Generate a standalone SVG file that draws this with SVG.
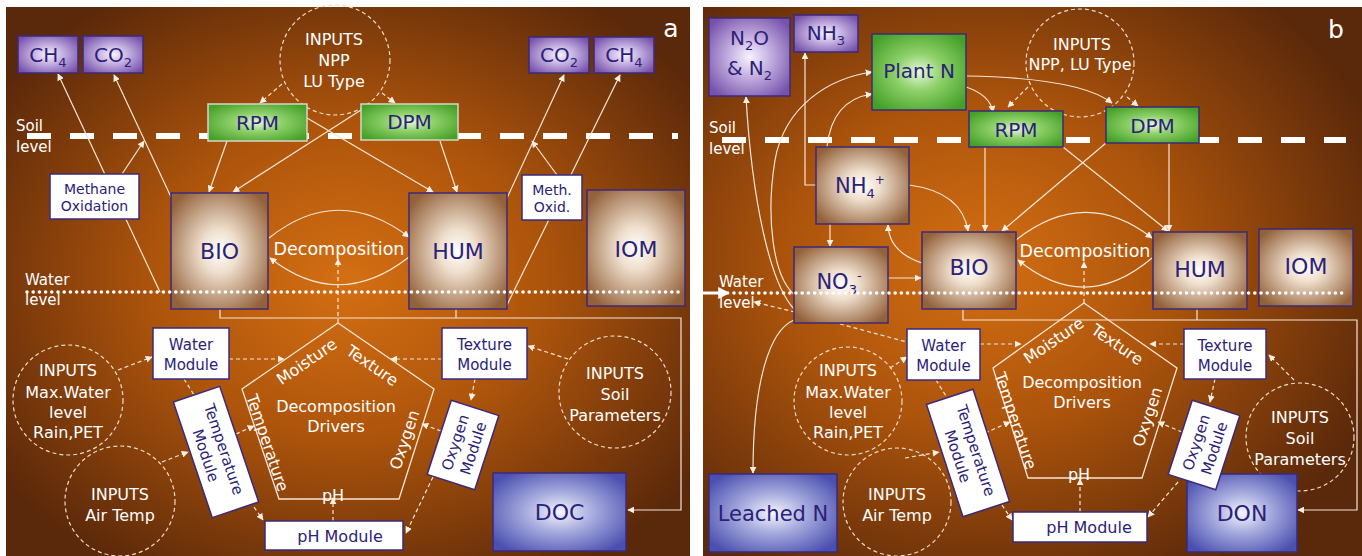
<svg xmlns="http://www.w3.org/2000/svg" width="1362" height="556" viewBox="0 0 1362 556">
<defs>
<radialGradient id="bgA" cx="0.5" cy="0.5" r="0.62"><stop offset="0" stop-color="#d46f13"/><stop offset="0.45" stop-color="#ae550c"/><stop offset="1" stop-color="#5a280a"/></radialGradient>
<radialGradient id="bgB" cx="0.42" cy="0.47" r="0.65"><stop offset="0" stop-color="#d46f13"/><stop offset="0.45" stop-color="#ac540c"/><stop offset="1" stop-color="#5a280a"/></radialGradient>
<radialGradient id="gBrown" cx="0.5" cy="0.5" r="0.62"><stop offset="0" stop-color="#ffffff"/><stop offset="0.3" stop-color="#efdfcd"/><stop offset="1" stop-color="#93613a"/></radialGradient>
<radialGradient id="gPurple" cx="0.5" cy="0.5" r="0.62"><stop offset="0" stop-color="#f7f3fc"/><stop offset="0.4" stop-color="#c6b2e2"/><stop offset="1" stop-color="#7652ab"/></radialGradient>
<radialGradient id="gGreen" cx="0.5" cy="0.5" r="0.62"><stop offset="0" stop-color="#e6f7dc"/><stop offset="0.4" stop-color="#8fd16a"/><stop offset="1" stop-color="#44a027"/></radialGradient>
<radialGradient id="gBlue" cx="0.5" cy="0.5" r="0.62"><stop offset="0" stop-color="#f4f5fd"/><stop offset="0.4" stop-color="#a9addf"/><stop offset="1" stop-color="#4a4fb0"/></radialGradient>
<marker id="ah" viewBox="0 0 10 10" refX="9" refY="5" markerWidth="7" markerHeight="7" markerUnits="userSpaceOnUse" orient="auto"><path d="M0,0 L10,5 L0,10 z" fill="#fbeee2"/></marker>
<marker id="ahBig" viewBox="0 0 10 10" refX="9" refY="5" markerWidth="12" markerHeight="12" markerUnits="userSpaceOnUse" orient="auto"><path d="M0,0 L10,5 L0,10 z" fill="#ffffff"/></marker>
<style>
.box{stroke:#3b2a7c;stroke-width:1.5;}
.brown{fill:url(#gBrown);}
.purple{fill:url(#gPurple);}
.green{fill:url(#gGreen);}
.blue{fill:url(#gBlue);}
.mod{fill:#ffffff;stroke:#3b2a7c;stroke-width:1.5;}
.lbl{fill:#2b2278;text-anchor:middle;font-family:"DejaVu Sans",sans-serif;}
.wt{fill:#ffffff;text-anchor:middle;font-family:"DejaVu Sans",sans-serif;}
.wl{fill:#ffffff;font-family:"DejaVu Sans",sans-serif;font-size:15px;}
.c{fill:none;stroke:#f6e6d6;stroke-width:1.2;}
.d{fill:none;stroke:#f6e6d6;stroke-width:1.2;stroke-dasharray:4 3;}
.a{marker-end:url(#ah);}
.circ{fill:none;stroke:#f0dcc6;stroke-width:1.2;stroke-dasharray:4 3;}
.pent{fill:none;stroke:#f6e6d6;stroke-width:1.3;}
.soil{stroke:#ffffff;stroke-width:6;stroke-dasharray:24 19;}
.water{stroke:#ffffff;stroke-width:3.6;stroke-linecap:round;stroke-dasharray:0 6.2;}
</style>
</defs>
<rect x="0" y="0" width="1362" height="556" fill="#ffffff"/>
<rect id="panelA" x="6" y="7" width="684" height="549" fill="url(#bgA)"/>
<rect id="panelB" x="703" y="7" width="659" height="549" fill="url(#bgB)"/>

<!-- soil level lines -->
<line x1="27" y1="136" x2="678" y2="136" class="soil"/>
<line x1="722" y1="140" x2="1346" y2="140" class="soil"/>
<text class="wl" x="16" y="131">Soil</text><text class="wl" x="16" y="152">level</text>
<text class="wl" x="709" y="133">Soil</text><text class="wl" x="709" y="154">level</text>

<!-- dashed input circles -->
<g id="inA1"><circle cx="335" cy="60" r="55" class="circ"/><text class="wt" font-size="16" x="334" y="45">INPUTS</text><text class="wt" font-size="16" x="334" y="66">NPP</text><text class="wt" font-size="16" x="334" y="87">LU Type</text></g>
<g id="inA2"><circle cx="68" cy="400" r="55" class="circ"/><text class="wt" font-size="16" x="68" y="376">INPUTS</text><text class="wt" font-size="16" x="68" y="398">Max.Water</text><text class="wt" font-size="16" x="68" y="418">level</text><text class="wt" font-size="16" x="68" y="438">Rain,PET</text></g>
<g id="inA3"><circle cx="120" cy="501" r="55" class="circ"/><text class="wt" font-size="16" x="120" y="500">INPUTS</text><text class="wt" font-size="16" x="120" y="521">Air Temp</text></g>
<g id="inA4"><circle cx="615" cy="392" r="56" class="circ"/><text class="wt" font-size="16" x="615" y="379">INPUTS</text><text class="wt" font-size="16" x="615" y="400">Soil</text><text class="wt" font-size="16" x="615" y="421">Parameters</text></g>
<g id="inB1"><circle cx="1080" cy="63" r="54" class="circ"/><text class="wt" font-size="16" x="1082" y="50">INPUTS</text><text class="wt" font-size="16" x="1080" y="70">NPP, LU Type</text></g>
<g id="inB2"><circle cx="848" cy="401" r="54" class="circ"/><text class="wt" font-size="16" x="848" y="376">INPUTS</text><text class="wt" font-size="16" x="848" y="398">Max.Water</text><text class="wt" font-size="16" x="848" y="418">level</text><text class="wt" font-size="16" x="848" y="438">Rain,PET</text></g>
<g id="inB3"><circle cx="897" cy="502" r="54" class="circ"/><text class="wt" font-size="16" x="897" y="500">INPUTS</text><text class="wt" font-size="16" x="897" y="521">Air Temp</text></g>
<g id="inB4"><circle cx="1300" cy="437" r="54" class="circ"/><text class="wt" font-size="16" x="1300" y="423">INPUTS</text><text class="wt" font-size="16" x="1300" y="444">Soil</text><text class="wt" font-size="16" x="1300" y="465">Parameters</text></g>

<!-- pentagons -->
<g id="pentA">
<polygon points="338,323 434,389 399,499 279,499 242,389" class="pent"/>
<text class="wt" font-size="16" transform="translate(307,362) rotate(-34.5)" y="5">Moisture</text>
<text class="wt" font-size="16" transform="translate(372,366) rotate(34.5)" y="5">Texture</text>
<text class="wt" font-size="16" transform="translate(267,443) rotate(71.4)" y="5">Temperature</text>
<text class="wt" font-size="16" transform="translate(405,440) rotate(-71.4)" y="5">Oxygen</text>
<text class="wt" font-size="16" x="333" y="501">pH</text>
<text class="wt" font-size="16" x="336" y="412">Decomposition</text>
<text class="wt" font-size="16" x="336" y="432">Drivers</text>
</g>
<g id="pentB">
<polygon points="1084,303 1177,368 1142,478 1028,478 993,368" class="pent"/>
<text class="wt" font-size="16" transform="translate(1054,341) rotate(-34.5)" y="5">Moisture</text>
<text class="wt" font-size="16" transform="translate(1117,345) rotate(34.5)" y="5">Texture</text>
<text class="wt" font-size="16" transform="translate(1015,421) rotate(71.4)" y="5">Temperature</text>
<text class="wt" font-size="16" transform="translate(1148,417) rotate(-71.4)" y="5">Oxygen</text>
<text class="wt" font-size="16" x="1079" y="480">pH</text>
<text class="wt" font-size="16" x="1082" y="388">Decomposition</text>
<text class="wt" font-size="16" x="1082" y="408">Drivers</text>
</g>

<!-- connectors -->
<g id="connectors">
<path class="d a" d="M282,84 L260,103"/>
<path class="d a" d="M382,93 L395,103"/>
<path class="c a" d="M227,141 L209,192"/>
<path class="c a" d="M307,118 L433,192"/>
<path class="c a" d="M361,110 L233,192"/>
<path class="c a" d="M440,141 L457,192"/>
<path class="c a" d="M171,197 L114,75"/>
<path class="c a" d="M160,292 L58,74"/>
<path class="c a" d="M122,174 L144,141"/>
<path class="c a" d="M507,198 L564,75"/>
<path class="c a" d="M505,309 L620,75"/>
<path class="c a" d="M557,175 L532,141"/>
<path class="c a" d="M269,238 Q338,183 409,237"/>
<path class="c a" d="M409,257 Q339,312 270,258"/>
<path class="d a" d="M338,323 L338,259"/>
<path class="c a" d="M220,309 V318 H681 V510 H628"/>
<path class="c" d="M456,309 V318"/>
<path class="d a" d="M229,359 L284,359"/>
<path class="d a" d="M442,359 L391,359"/>
<path class="d" d="M184,379 L196,398"/>
<path class="d a" d="M236,434 L254,426"/>
<path class="d a" d="M254,507 L263,520"/>
<path class="d a" d="M333,521 L333,498"/>
<path class="d a" d="M441,431 L422,424"/>
<path class="d a" d="M433,477 L406,533"/>
<path class="d a" d="M475,379 L471,400"/>
<path class="d a" d="M118,370 L152,357"/>
<path class="d a" d="M162,462 L188,452"/>
<path class="d a" d="M568,359 L528,346"/>

<path class="d a" d="M1028,87 L1008,107"/>
<path class="d a" d="M1127,97 L1138,106"/>
<path class="c a" d="M966,87 Q990,95 993,112"/>
<path class="c a" d="M967,76 Q1080,78 1112,103"/>
<path class="c a" d="M985,147 L985,231"/>
<path class="c a" d="M1063,147 L1168,231"/>
<path class="c a" d="M1106,143 L1002,231"/>
<path class="c a" d="M1169,143 L1169,231"/>
<path class="c a" d="M909,185 Q962,192 968,231"/>
<path class="c a" d="M922,263 Q889,252 888,225"/>
<path class="c a" d="M830,224 L830,246"/>
<path class="c a" d="M888,278 L921,278"/>
<path class="c a" d="M816,185 H805 V53"/>
<path class="c a" d="M827,147 Q832,100 872,94"/>
<path class="c a" d="M796,296 C772,278 766,215 775,160 C785,105 830,78 872,72"/>
<path class="c a" d="M795,310 C770,285 752,200 746,97"/>
<path class="c a" d="M794,320 C770,330 753,380 753,473"/>
<path class="d a" d="M795,312 L754,302"/>
<path class="d" d="M840,324 L907,342"/>
<path fill="none" stroke="#ffffff" stroke-width="3" marker-end="url(#ahBig)" d="M703,293 H729"/>
<path class="c a" d="M1016,240 Q1085,186 1152,238"/>
<path class="c a" d="M1152,258 Q1085,315 1018,260"/>
<path class="d a" d="M1084,303 L1084,262"/>
<path class="c a" d="M963,309 V320 H1357 V510 H1298"/>
<path class="c" d="M1197,309 V320"/>
<path class="d a" d="M980,344 L1021,344"/>
<path class="d a" d="M1184,344 L1150,344"/>
<path class="d" d="M936,380 L946,396"/>
<path class="d a" d="M985,433 L1010,422"/>
<path class="d a" d="M1002,505 L1012,520"/>
<path class="d a" d="M1080,512 L1080,479"/>
<path class="d a" d="M1182,432 L1158,422"/>
<path class="d a" d="M1178,482 L1148,517"/>
<path class="d a" d="M1215,379 L1210,402"/>
<path class="d a" d="M890,368 L907,357"/>
<path class="d a" d="M905,458 L939,452"/>
<path class="d a" d="M1294,380 L1269,355"/>
</g>

<!-- panel a nodes -->
<g id="a_CH4"><rect x="18" y="36" width="60" height="37" class="box purple"/><text class="lbl" font-size="20" x="48" y="62">CH<tspan font-size="13" dy="5">4</tspan></text></g>
<g id="a_CO2"><rect x="83" y="36" width="60" height="37" class="box purple"/><text class="lbl" font-size="20" x="113" y="62">CO<tspan font-size="13" dy="5">2</tspan></text></g>
<g id="a_CO2r"><rect x="529" y="37" width="60" height="36" class="box purple"/><text class="lbl" font-size="20" x="559" y="62">CO<tspan font-size="13" dy="5">2</tspan></text></g>
<g id="a_CH4r"><rect x="594" y="37" width="60" height="36" class="box purple"/><text class="lbl" font-size="20" x="624" y="62">CH<tspan font-size="13" dy="5">4</tspan></text></g>
<g id="a_RPM"><rect x="208" y="104" width="99" height="37" class="green" stroke="#d6d6c8" stroke-width="1.5"/><text class="lbl" font-size="20" x="257.5" y="130">RPM</text></g>
<g id="a_DPM"><rect x="361" y="104" width="97" height="36" class="green" stroke="#d6d6c8" stroke-width="1.5"/><text class="lbl" font-size="20" x="409.5" y="129">DPM</text></g>
<g id="a_MethOx"><rect x="50" y="174" width="89" height="45" class="mod"/><text class="lbl" font-size="14" x="94.5" y="194">Methane</text><text class="lbl" font-size="14" x="94.5" y="211">Oxidation</text></g>
<g id="a_MethOxid"><rect x="522" y="175" width="60" height="45" class="mod"/><text class="lbl" font-size="14" x="552" y="195">Meth.</text><text class="lbl" font-size="14" x="552" y="212">Oxid.</text></g>
<g id="a_BIO"><rect x="171" y="193" width="97" height="116" class="box brown"/><text class="lbl" font-size="22" x="219.5" y="259">BIO</text></g>
<g id="a_HUM"><rect x="409" y="193" width="98" height="116" class="box brown"/><text class="lbl" font-size="22" x="458" y="259">HUM</text></g>
<g id="a_IOM"><rect x="587" y="190" width="98" height="116" class="box brown"/><text class="lbl" font-size="22" x="636" y="257">IOM</text></g>
<g id="a_Decomp"><text class="wt" font-size="17.5" x="339" y="255">Decomposition</text></g>
<g id="a_Water"><rect x="153" y="328" width="76" height="51" class="mod"/><text class="lbl" font-size="15" x="191" y="350">Water</text><text class="lbl" font-size="15" x="191" y="370">Module</text></g>
<g id="a_Texture"><rect x="442" y="328" width="85" height="51" class="mod"/><text class="lbl" font-size="15" x="484.5" y="350">Texture</text><text class="lbl" font-size="15" x="484.5" y="370">Module</text></g>
<g id="a_Temp" transform="translate(216,452) rotate(71.4)"><rect x="-61" y="-24.5" width="122" height="49" class="mod"/><text class="lbl" font-size="15" x="0" y="-3">Temperature</text><text class="lbl" font-size="15" x="0" y="16">Module</text></g>
<g id="a_Oxygen" transform="translate(463,445) rotate(-72)"><rect x="-39" y="-25" width="78" height="50" class="mod"/><text class="lbl" font-size="15" x="0" y="-3">Oxygen</text><text class="lbl" font-size="15" x="0" y="16">Module</text></g>
<g id="a_pH"><rect x="265" y="521" width="138" height="29" class="mod"/><text class="lbl" font-size="16" x="340" y="542">pH Module</text></g>
<g id="a_DOC"><rect x="493" y="473" width="133" height="78" class="box blue"/><text class="lbl" font-size="22" x="559.5" y="520">DOC</text></g>

<!-- panel b nodes -->
<g id="b_N2O"><rect x="709" y="18" width="81" height="78" class="box purple"/><text class="lbl" font-size="20" x="749.5" y="45">N<tspan font-size="13" dy="5">2</tspan><tspan dy="-5">O</tspan></text><text class="lbl" font-size="20" x="749.5" y="75">&amp; N<tspan font-size="13" dy="5">2</tspan></text></g>
<g id="b_NH3"><rect x="794" y="15" width="64" height="37" class="box purple"/><text class="lbl" font-size="20" x="826" y="40">NH<tspan font-size="13" dy="5">3</tspan></text></g>
<g id="b_PlantN"><rect x="872" y="34" width="94" height="76" class="box green"/><text class="lbl" font-size="20" x="919" y="78">Plant N</text></g>
<g id="b_RPM"><rect x="969" y="111" width="94" height="36" class="box green"/><text class="lbl" font-size="20" x="1016" y="137">RPM</text></g>
<g id="b_DPM"><rect x="1106" y="107" width="93" height="36" class="box green"/><text class="lbl" font-size="20" x="1152.5" y="133">DPM</text></g>
<g id="b_NH4"><rect x="816" y="147" width="93" height="77" class="box brown"/><text class="lbl" font-size="21" x="860" y="193">NH<tspan font-size="13" dy="5">4</tspan><tspan font-size="12" dy="-14">+</tspan></text></g>
<g id="b_NO3"><rect x="794" y="247" width="94" height="76" class="box brown"/><text class="lbl" font-size="21" x="839" y="289">NO<tspan font-size="13" dy="5">3</tspan><tspan font-size="13" dy="-14">-</tspan></text></g>
<g id="b_BIO"><rect x="922" y="232" width="94" height="77" class="box brown"/><text class="lbl" font-size="22" x="969" y="275">BIO</text></g>
<g id="b_HUM"><rect x="1153" y="232" width="94" height="77" class="box brown"/><text class="lbl" font-size="22" x="1200" y="277">HUM</text></g>
<g id="b_IOM"><rect x="1259" y="229" width="94" height="77" class="box brown"/><text class="lbl" font-size="22" x="1306" y="274">IOM</text></g>
<g id="b_Decomp"><text class="wt" font-size="17.5" x="1085" y="257">Decomposition</text></g>
<g id="b_Water"><rect x="907" y="329" width="73" height="51" class="mod"/><text class="lbl" font-size="15" x="943.5" y="351">Water</text><text class="lbl" font-size="15" x="943.5" y="371">Module</text></g>
<g id="b_Texture"><rect x="1184" y="329" width="82" height="50" class="mod"/><text class="lbl" font-size="15" x="1225" y="351">Texture</text><text class="lbl" font-size="15" x="1225" y="371">Module</text></g>
<g id="b_Temp" transform="translate(968,453) rotate(72)"><rect x="-59" y="-24.5" width="118" height="49" class="mod"/><text class="lbl" font-size="15" x="0" y="-3">Temperature</text><text class="lbl" font-size="15" x="0" y="16">Module</text></g>
<g id="b_Leached"><rect x="709" y="474" width="128" height="78" class="box blue"/><text class="lbl" font-size="21" x="773" y="521">Leached N</text></g>
<g id="b_DON"><rect x="1187" y="474" width="110" height="78" class="box blue"/><text class="lbl" font-size="22" x="1242" y="521">DON</text></g>
<g id="b_Oxygen" transform="translate(1204,445) rotate(-72)"><rect x="-39" y="-25" width="78" height="50" class="mod"/><text class="lbl" font-size="15" x="0" y="-3">Oxygen</text><text class="lbl" font-size="15" x="0" y="16">Module</text></g>
<g id="b_pH"><rect x="1013" y="512" width="134" height="30" class="mod"/><text class="lbl" font-size="16" x="1089" y="533">pH Module</text></g>

<!-- water level -->
<line x1="27" y1="292" x2="678" y2="292" class="water"/>
<line x1="734" y1="293" x2="1346" y2="293" class="water"/>
<text class="wl" x="25" y="285">Water</text><text class="wl" x="25" y="305">level</text>
<text class="wl" x="719" y="287">Water</text><text class="wl" x="719" y="308">level</text>

<text class="wt" font-size="25" x="671" y="37">a</text>
<text class="wt" font-size="25" x="1336" y="38">b</text>
</svg>
